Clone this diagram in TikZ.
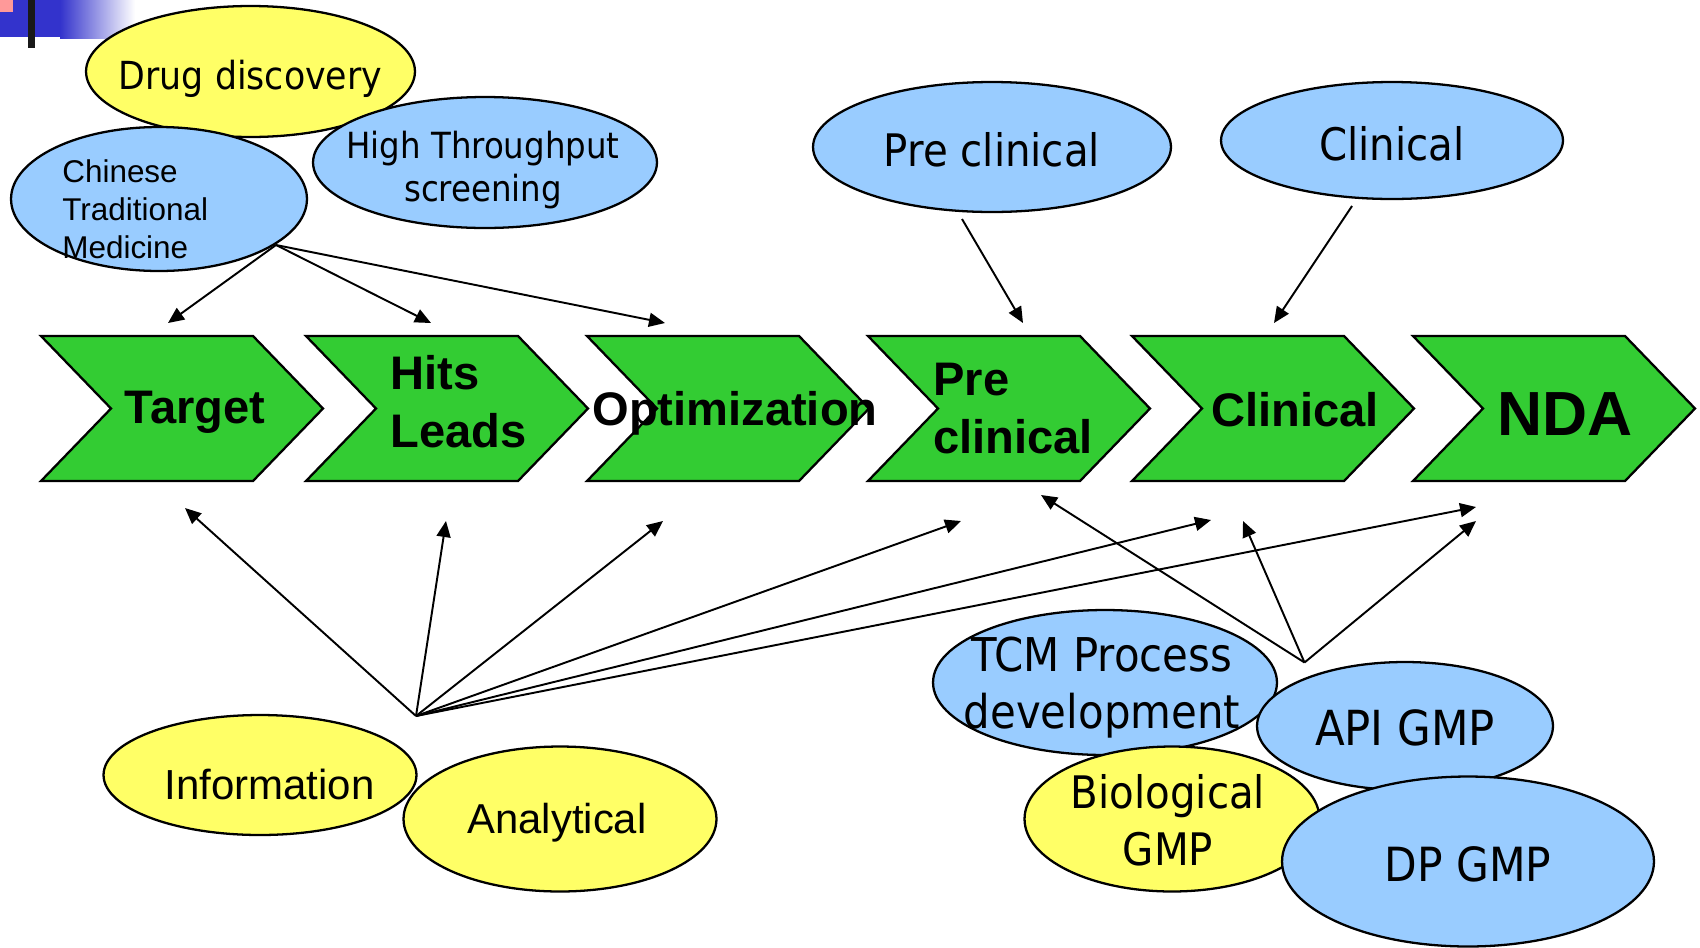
\documentclass[tikz,border=0pt]{standalone}
\usepackage{fontspec}
\setmainfont{Liberation Sans}
\newfontfamily\tahoma{DejaVu Sans Condensed}
\usetikzlibrary{shapes.geometric, arrows.meta}
\definecolor{ballyellow}{HTML}{FFFF66}
\definecolor{ballblue}{HTML}{99CCFF}
\definecolor{stepgreen}{HTML}{33CC33}
\definecolor{barblue}{HTML}{3333CC}
\definecolor{barpink}{HTML}{FF9999}

\begin{document}
\begin{tikzpicture}[x=0.02cm, y=-0.02cm,
  ball/.style={ellipse, draw, line width=1.3pt, inner sep=0pt},
  yellowball/.style={ball, fill=ballyellow},
  blueball/.style={ball, fill=ballblue},
  chevron/.style={draw, fill=stepgreen, line width=1.3pt},
  steptext/.style={font=\bfseries\fontsize{26.8pt}{33pt}\selectfont, inner sep=0pt, align=left},
  balltext/.style={inner sep=0pt, align=center},
  flow/.style={-{Triangle[length=0.32cm, width=0.28cm]}, line width=1.1pt}]
  \useasboundingbox (0,0) rectangle (1700,947);

  % corner mark
  \fill[barblue] (0,0) rectangle (60,37);
  \shade[left color=barblue, right color=white] (60,0) rectangle (135,38);
  \fill[barpink] (0,0) rectangle (13,12);
  \fill[black!90] (28,0) rectangle (35,48);

  % process steps
  \foreach \l in {41,306,587,868,1132,1413}
    \draw[chevron] (\l,336) -- ++(212,0) -- ++(70,72.5) -- ++(-70,72.5) -- ++(-212,0) -- ++(70,-72.5) -- cycle;
  \node[steptext, anchor=base] (target) at (195,423) {Target};
  \node[steptext, anchor=north west] (hits) at (390,355) {Hits\\Leads};
  \node[steptext, anchor=base] (optim) at (735,425) {Optimization};
  \node[steptext, anchor=north west] (precl) at (933,363) {Pre\\clinical};
  \node[steptext, anchor=base] (clin) at (1295,426) {Clinical};
  \node[steptext, anchor=base, font=\bfseries\fontsize{35.5pt}{40pt}\selectfont] (nda) at (1565,435) {NDA};

  % top ovals
  \node[yellowball, minimum width=6.58cm, minimum height=2.62cm] (drug) at (250.5,71.5) {};
  \node[balltext, anchor=base, font=\tahoma\fontsize{22pt}{26pt}\selectfont] (drugtext) at (250.5,89.3) {Drug discovery};
  \node[blueball, minimum width=5.92cm, minimum height=2.88cm] (ctm) at (159,199) {};
  \node[balltext, align=left, anchor=north west, font=\fontsize{17.9pt}{21.7pt}\selectfont] (ctmtext) at (62,159) {Chinese\\Traditional\\Medicine};
  \node[blueball, minimum width=6.88cm, minimum height=2.62cm] (hts) at (485,162.5) {};
  \node[balltext, anchor=north, font=\tahoma\fontsize{20.5pt}{24.4pt}\selectfont] (htstext) at (483,130.5) {High Throughput\\screening};
  \node[blueball, minimum width=7.16cm, minimum height=2.60cm] (preball) at (992,147) {};
  \node[balltext, anchor=base, font=\tahoma\fontsize{25.5pt}{30pt}\selectfont] (pretext) at (992,166) {Pre clinical};
  \node[blueball, minimum width=6.84cm, minimum height=2.34cm] (clinball) at (1392,140.5) {};
  \node[balltext, anchor=base, font=\tahoma\fontsize{25.5pt}{30pt}\selectfont] (clintext) at (1392,160) {Clinical};

  % bottom ovals
  \node[yellowball, minimum width=6.26cm, minimum height=2.40cm] (info) at (260,775) {};
  \node[balltext, anchor=base, font=\fontsize{23.9pt}{28pt}\selectfont] (infotext) at (269.5,799.3) {Information};
  \node[yellowball, minimum width=6.26cm, minimum height=2.90cm] (anal) at (560,819) {};
  \node[balltext, anchor=base, font=\fontsize{23.8pt}{28pt}\selectfont] (analtext) at (557,833.3) {Analytical};
  \node[blueball, minimum width=6.88cm, minimum height=2.90cm] (tcm) at (1105,682.5) {};
  \node[balltext, anchor=north, font=\tahoma\fontsize{26.5pt}{32.5pt}\selectfont] (tcmtext) at (1102,636.7) {TCM Process\\development};
  \node[yellowball, minimum width=5.90cm, minimum height=2.90cm] (bio) at (1172,819) {};
  \node[balltext, anchor=north, font=\tahoma\fontsize{25.5pt}{32.7pt}\selectfont] (biotext) at (1168,774) {Biological\\GMP};
  \node[blueball, minimum width=5.92cm, minimum height=2.56cm] (api) at (1405,726) {};
  \node[balltext, anchor=base, font=\tahoma\fontsize{27.5pt}{32pt}\selectfont] (apitext) at (1405,745) {API GMP};
  \node[blueball, minimum width=7.44cm, minimum height=3.40cm] (dp) at (1468,861.5) {};
  \node[balltext, anchor=base, font=\tahoma\fontsize{26.8pt}{32pt}\selectfont] (dptext) at (1468,881.7) {DP GMP};

  % arrows
  \coordinate (ctmroot) at (276,245);
  \coordinate (prefrom) at (962,219);
  \coordinate (clinfrom) at (1352,206);
  \coordinate (inforoot) at (416,716);
  \coordinate (gmproot) at (1304.5,662.5);

  \coordinate (targetup) at (168,323);
  \coordinate (hitsup) at (431,323);
  \coordinate (optup) at (665,323);
  \coordinate (preup) at (1023,323);
  \coordinate (clinup) at (1274,323);

  \coordinate (targetdown) at (185,508);
  \coordinate (hitsdown) at (446,521);
  \coordinate (optdown) at (663,521);
  \coordinate (predown) at (961,521);
  \coordinate (clindown) at (1211,520);
  \coordinate (ndadown) at (1476,507);

  \coordinate (prelow) at (1041,495);
  \coordinate (clinlow) at (1243,521);
  \coordinate (ndalow) at (1476,521);

  \foreach \e in {targetup,hitsup,optup}
    \draw[flow] (ctmroot) -- (\e);
  \draw[flow] (prefrom) -- (preup);
  \draw[flow] (clinfrom) -- (clinup);
  \foreach \e in {targetdown,hitsdown,optdown,predown,clindown,ndadown}
    \draw[flow] (inforoot) -- (\e);
  \foreach \e in {prelow,clinlow,ndalow}
    \draw[flow] (gmproot) -- (\e);
\end{tikzpicture}
\end{document}
